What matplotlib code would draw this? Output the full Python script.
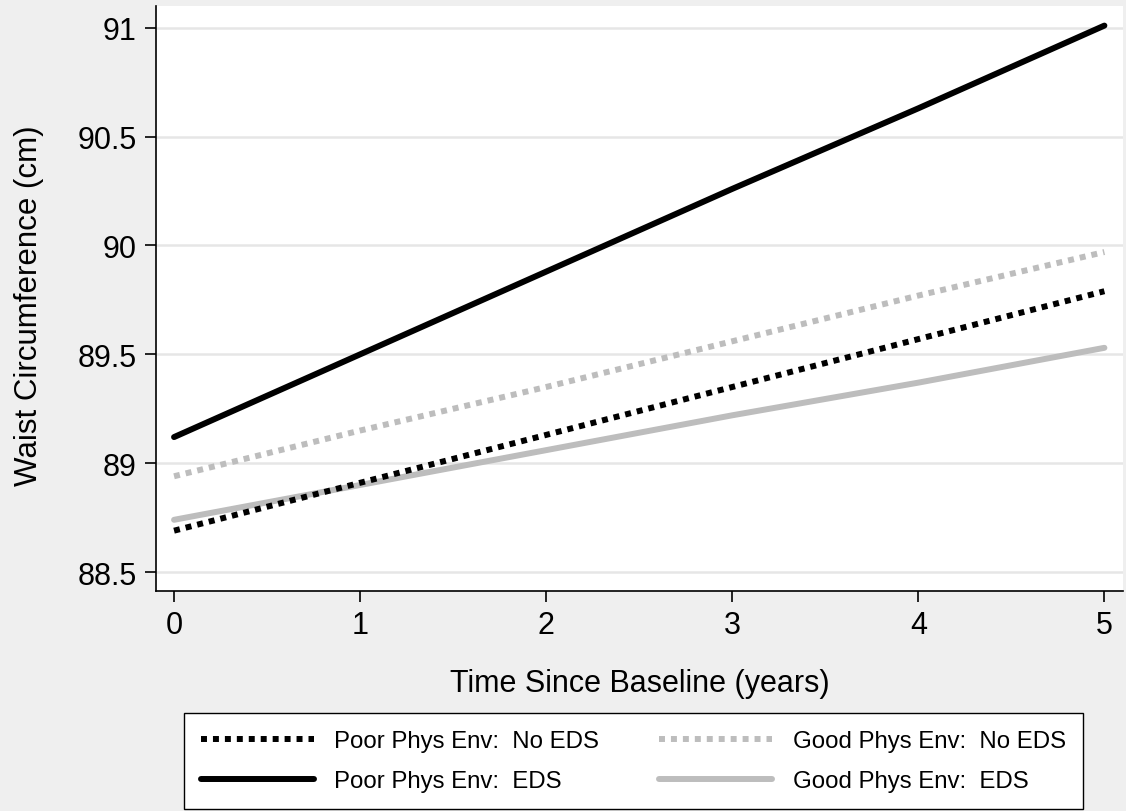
import numpy as np
import matplotlib
matplotlib.use("Agg")
from matplotlib import pyplot as plt

plt.rcParams["font.family"] = ["Liberation Sans", "DejaVu Sans"]

years = [0, 1, 2, 3, 4, 5]
poor_no_eds = [88.69, 88.91, 89.13, 89.35, 89.57, 89.79]
poor_eds = [89.12, 89.50, 89.88, 90.26, 90.63, 91.01]
good_no_eds = [88.94, 89.15, 89.35, 89.56, 89.77, 89.97]
good_eds = [88.74, 88.90, 89.06, 89.22, 89.37, 89.53]

y_ticks = [88.5, 89, 89.5, 90, 90.5, 91]
y_tick_labels = ["88.5", "89", "89.5", "90", "90.5", "91"]

GRAY = "#bdbdbd"
DOT = (0, (1.0, 1.0))
LW = 4.3

fig = plt.figure(figsize=(11.26, 8.12), dpi=100, facecolor="#efefef")
ax = fig.add_axes([156 / 1126, 1 - 592 / 812, (1123 - 156) / 1126, (592 - 7) / 812])
ax.set_facecolor("white")

ax.plot(years, poor_no_eds, color="black", lw=LW, linestyle=DOT,
        label="Poor Phys Env:  No EDS", zorder=4)
ax.plot(years, poor_eds, color="black", lw=LW, solid_capstyle="round",
        label="Poor Phys Env:  EDS", zorder=3)
ax.plot(years, good_no_eds, color=GRAY, lw=LW, linestyle=DOT,
        label="Good Phys Env:  No EDS", zorder=3)
ax.plot(years, good_eds, color=GRAY, lw=LW, solid_capstyle="round",
        label="Good Phys Env:  EDS", zorder=3)

ax.set_xlim(-0.097, 5.1)
ax.set_ylim(88.413, 91.1)
ax.set_xticks(years)
ax.set_yticks(y_ticks)
ax.set_yticklabels(y_tick_labels)
ax.grid(axis="y", color="#e6e6e6", lw=1.8, zorder=0)
ax.set_axisbelow(True)

for side in ["top", "right"]:
    ax.spines[side].set_visible(False)
for side in ["left", "bottom"]:
    ax.spines[side].set_linewidth(1.2)
ax.tick_params(axis="both", direction="out", length=8, width=1.2, labelsize=22, pad=6)

ax.set_xlabel("Time Since Baseline (years)", fontsize=22, labelpad=20)
ax.set_ylabel("Waist Circumference (cm)", fontsize=22.5)
ax.yaxis.set_label_coords(-0.116, 0.489)

handles, labels = ax.get_legend_handles_labels()
leg = fig.legend(handles, labels, loc="lower left", ncol=2,
                 bbox_to_anchor=(184 / 1126, 2 / 812),
                 fontsize=17.3, frameon=True, fancybox=False, framealpha=1,
                 handlelength=4.7, handletextpad=0.85, borderpad=0.7,
                 labelspacing=0.75, columnspacing=2.5, borderaxespad=0)
leg.get_frame().set_edgecolor("black")
leg.get_frame().set_linewidth(1.0)
leg.get_frame().set_facecolor("white")

fig.savefig("out.png", dpi=100, facecolor=fig.get_facecolor())
